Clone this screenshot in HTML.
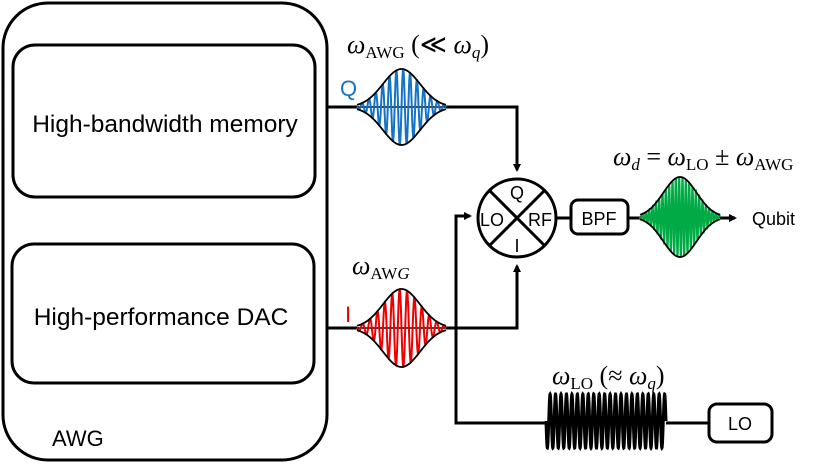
<!DOCTYPE html>
<html><head><meta charset="utf-8"><style>
body{margin:0;background:#fff}
svg{display:block}
text{font-family:"Liberation Sans",sans-serif}
.m{font-family:"Liberation Serif",serif}
</style></head><body>
<svg id="s" width="830" height="468" viewBox="0 0 830 468" xmlns="http://www.w3.org/2000/svg">
<defs><marker id="a" markerWidth="8" markerHeight="8" refX="6" refY="4" orient="auto" markerUnits="userSpaceOnUse"><path d="M0,0 L8,4 L0,8 z" fill="#000"/></marker></defs>
<g fill="none" stroke="#000" stroke-width="3">
<rect x="3" y="3" width="324" height="457" rx="45"/>
<rect x="13" y="45" width="302" height="152" rx="22"/>
<rect x="12" y="244" width="302" height="139" rx="22"/>
</g>
<text x="165" y="132" font-size="24.5" text-anchor="middle">High-bandwidth memory</text>
<text x="161" y="325" font-size="24.5" text-anchor="middle">High-performance DAC</text>
<text x="52" y="446" font-size="22">AWG</text>
<g fill="none" stroke="#000" stroke-width="3">
<path d="M328,107 H357 M446,107 H517 V170" marker-end="url(#a)"/>
<path d="M328,328 H357 M446,328 H517 V266" marker-end="url(#a)"/>
<path d="M709,423 H666 M546,423 H456 V216 H470" marker-end="url(#a)"/>
<circle cx="517" cy="218" r="39"/>
<path d="M489,190 L545,246 M545,190 L489,246"/>
<path d="M556,218 H571 M628,218 H640 M720,218 H735" marker-end="url(#a)"/>
<rect x="571" y="200" width="57" height="34" rx="7"/>
<rect x="709" y="404" width="63" height="38" rx="8"/>
</g>
<g id="w"></g>
<text x="517" y="199" font-size="18" text-anchor="middle">Q</text>
<text x="480" y="226" font-size="18">LO</text>
<text x="528" y="226" font-size="18">RF</text>
<text x="517" y="252" font-size="18" text-anchor="middle">I</text>
<text x="599" y="225" font-size="18" text-anchor="middle">BPF</text>
<text x="740" y="430" font-size="18" text-anchor="middle">LO</text>
<text x="752" y="225" font-size="18">Qubit</text>
<text x="340" y="96" font-size="22" fill="#1573c4">Q</text>
<text x="345" y="322" font-size="22" fill="#e00">I</text>
<text class="m" x="347" y="53" font-size="26"><tspan font-style="italic">ω</tspan><tspan font-size="17" dy="5">AWG</tspan><tspan dy="-5"> (≪ </tspan><tspan font-style="italic">ω</tspan><tspan font-style="italic" font-size="17" dy="5">q</tspan><tspan dy="-5">)</tspan></text>
<text class="m" x="352" y="274" font-size="26"><tspan font-style="italic">ω</tspan><tspan font-size="17" dy="5">AW<tspan font-style="italic">G</tspan></tspan></text>
<text class="m" x="613" y="165" font-size="26"><tspan font-style="italic">ω</tspan><tspan font-style="italic" font-size="17" dy="5">d</tspan><tspan dy="-5"> = </tspan><tspan font-style="italic">ω</tspan><tspan font-size="17" dy="5">LO</tspan><tspan dy="-5"> ± </tspan><tspan font-style="italic">ω</tspan><tspan font-size="17" dy="5">AWG</tspan></text>
<text class="m" x="552" y="384" font-size="26"><tspan font-style="italic">ω</tspan><tspan font-size="17" dy="5">LO</tspan><tspan dy="-5"> (≈ </tspan><tspan font-style="italic">ω</tspan><tspan font-style="italic" font-size="17" dy="5">q</tspan><tspan dy="-5">)</tspan></text>
</svg>
<script>
var g=document.getElementById('w'),NS='http://www.w3.org/2000/svg';
function P(d,c,w){var p=document.createElementNS(NS,'path');p.setAttribute('d',d);p.setAttribute('fill','none');p.setAttribute('stroke',c);p.setAttribute('stroke-width',w);g.appendChild(p);}
function pulse(x0,x1,cy,A,cyc,col,sw){var n=600,d='',u='',l='',xm=(x0+x1)/2,sg=(x1-x0)/4.8;
for(var i=0;i<=n;i++){var x=x0+(x1-x0)*i/n,e=A*Math.exp(-Math.pow((x-xm)/sg,2)/2);
d+=(i?'L':'M')+x.toFixed(2)+','+(cy+e*Math.sin(2*Math.PI*cyc*i/n)).toFixed(2);
u+=(i?'L':'M')+x.toFixed(2)+','+(cy-e).toFixed(2);l+=(i?'L':'M')+x.toFixed(2)+','+(cy+e).toFixed(2);}
P('M'+x0+','+cy+'H'+x1,'#000',1.5);P(d,col,2);P(u,'#000',1.8);P(l,'#000',1.8);}
pulse(357,446,107,38,13,'#1573c4',2);
pulse(357,446,328,39,12,'#e00',2);
pulse(640,720,217,40,24,'#0a4',1.5);
var d='';for(var i=0;i<=1200;i++){var x=546+120*i/1200;d+=(i?'L':'M')+x.toFixed(2)+','+(421+27*Math.sin(2*Math.PI*22*i/1200)).toFixed(2);}
P(d,'#000',3);
</script>
</body></html>
